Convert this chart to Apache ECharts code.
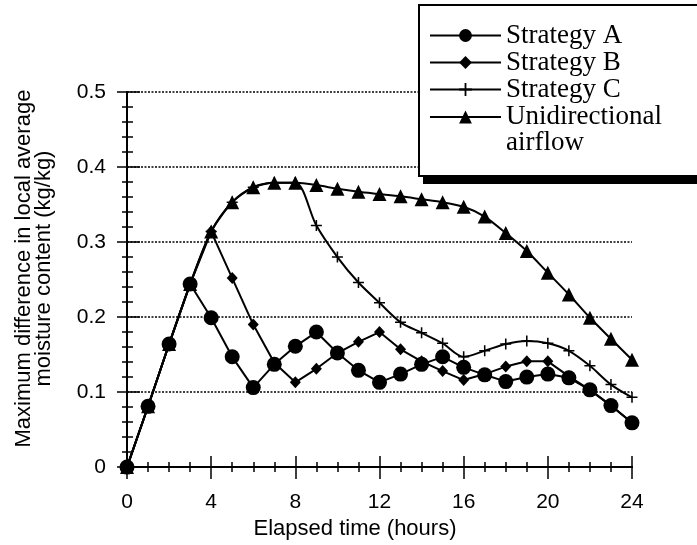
<!DOCTYPE html>
<html>
<head>
<meta charset="utf-8">
<script src="https://cdn.jsdelivr.net/npm/echarts@6/dist/echarts.min.js"></script>
<style>html,body{margin:0;padding:0;background:#fff;}#c{width:697px;height:545px;}</style>
</head>
<body>
<div id="c"></div>
<script>
const hours = [0,1,2,3,4,5,6,7,8,9,10,11,12,13,14,15,16,17,18,19,20,21,22,23,24];
const strategyA = [0,0.081,0.164,0.244,0.199,0.147,0.106,0.137,0.161,0.180,0.152,0.129,0.113,0.124,0.137,0.147,0.133,0.123,0.114,0.120,0.124,0.119,0.103,0.082,0.059];
const strategyB = [0,0.081,0.164,0.244,0.314,0.252,0.190,0.139,0.113,0.131,0.152,0.167,0.180,0.157,0.141,0.128,0.116,0.124,0.134,0.141,0.141,0.121,0.103,0.082,0.059];
const strategyC = [0,0.081,0.164,0.244,0.314,0.353,0.373,0.379,0.379,0.322,0.280,0.246,0.219,0.193,0.179,0.165,0.147,0.155,0.164,0.168,0.165,0.155,0.135,0.110,0.093];
const unidirectional = [0,0.081,0.164,0.244,0.314,0.353,0.373,0.379,0.379,0.376,0.371,0.367,0.364,0.361,0.357,0.353,0.347,0.334,0.312,0.288,0.259,0.230,0.199,0.171,0.143];
const seriesNames = ['Strategy A','Strategy B','Strategy C','Unidirectional airflow'];
const xTitle = 'Elapsed time (hours)';
const yTitle = 'Maximum difference in local average\nmoisture content (kg/kg)';

const pairs = arr => hours.map((h,i)=>[h,arr[i]]);
const axisFont = 'Liberation Sans, Arial, sans-serif';
const serifFont = 'Liberation Serif, Times New Roman, serif';
const plusPath = 'path://M0,4.3H10V5.7H0ZM4.3,0H5.7V10H4.3Z';

function xAx(pos, inside, len, opts){
  return Object.assign({
    type:'value', position:pos, min:0, max:24, interval:4,
    axisLine:{show:true, lineStyle:{color:'#000', width:2}},
    axisTick:{show:true, inside:inside, length:len, lineStyle:{color:'#000', width:1.5}},
    minorTick:{show:false},
    axisLabel:{show:false}, splitLine:{show:false}
  }, opts||{});
}
function yAx(pos, inside, len, opts){
  return Object.assign({
    type:'value', position:pos, min:0, max:0.5, interval:0.1,
    axisLine:{show:true, lineStyle:{color:'#000', width:2}},
    axisTick:{show:true, inside:inside, length:len, lineStyle:{color:'#000', width:1.5}},
    minorTick:{show:false},
    axisLabel:{show:false}, splitLine:{show:false}
  }, opts||{});
}

const chart = echarts.init(document.getElementById('c'), null, {renderer:'canvas'});
const lineCommon = {
  lineStyle:{color:'#000', width:2},
  itemStyle:{color:'#000'},
  animation:false
};
chart.setOption({
  animation:false,
  backgroundColor:'#fff',
  grid:{left:127, right:65, top:92, bottom:77},
  xAxis:[
    xAx('bottom', true, 11, {
      minorTick:{show:true, splitNumber:4, length:5, lineStyle:{color:'#000', width:1.5}},
      axisLabel:{show:true, fontFamily:axisFont, fontSize:21, color:'#000', margin:25},
      name:xTitle, nameLocation:'middle', nameGap:39,
      nameTextStyle:{fontFamily:axisFont, fontSize:22, color:'#000', padding:[0,49,0,0]}
    }),
    xAx('bottom', false, 12),
    xAx('top', true, 12, {minorTick:{show:true, splitNumber:4, length:5, lineStyle:{color:'#000', width:1.5}}}),
    xAx('top', false, 11)
  ],
  yAxis:[
    yAx('left', true, 10, {
      axisLine:{show:true, lineStyle:{color:'#000', width:1.5, type:[4,2]}},
      minorTick:{show:true, splitNumber:5, length:6, lineStyle:{color:'#000', width:1.5}},
      axisLabel:{show:true, fontFamily:axisFont, fontSize:21, color:'#000', margin:21},
      splitLine:{show:true, lineStyle:{color:'#000', width:1.6, type:[2,1.5]}},
      name:yTitle, nameLocation:'middle', nameGap:73, nameRotate:90,
      nameTextStyle:{fontFamily:axisFont, fontSize:22, color:'#000', lineHeight:20, padding:[0,0,0,22]}
    }),
    yAx('left', false, 10),
    yAx('right', true, 10, {minorTick:{show:true, splitNumber:5, length:5, lineStyle:{color:'#000', width:1.5}}}),
    yAx('right', false, 13)
  ],
  legend:{
    data:seriesNames, orient:'vertical', left:429, top:22, z:10, padding:0,
    itemWidth:71, itemHeight:16, itemGap:0,
    inactiveColor:'#000',
    formatter:function(n){
      if(n==='Unidirectional airflow') return '{a|Unidirectional}\n{b|airflow}';
      return '{a|'+n+'}';
    },
    textStyle:{fontFamily:serifFont, fontSize:27, color:'#000', lineHeight:26.5,
      rich:{
        a:{fontFamily:serifFont, fontSize:27, color:'#000', lineHeight:26.5},
        b:{fontFamily:serifFont, fontSize:27, color:'#000', lineHeight:1, verticalAlign:'top'}
      }
    }
  },
  graphic:[
    {type:'rect', z:5, shape:{x:423, y:12, width:300, height:172}, style:{fill:'#000'}},
    {type:'rect', z:6, shape:{x:419, y:5, width:300, height:171}, style:{fill:'#fff', stroke:'#000', lineWidth:2}}
  ],
  series:[
    Object.assign({type:'line', name:seriesNames[3], data:pairs(unidirectional), symbol:'triangle', symbolSize:14, smooth:0.25}, lineCommon),
    Object.assign({type:'line', name:seriesNames[2], data:pairs(strategyC), symbol:plusPath, symbolSize:11, smooth:0.3}, lineCommon),
    Object.assign({type:'line', name:seriesNames[1], data:pairs(strategyB), symbol:'diamond', symbolSize:[11,12]}, lineCommon),
    Object.assign({type:'line', name:seriesNames[0], data:pairs(strategyA), symbol:'circle', symbolSize:15}, lineCommon)
  ]
});
</script>
</body>
</html>
